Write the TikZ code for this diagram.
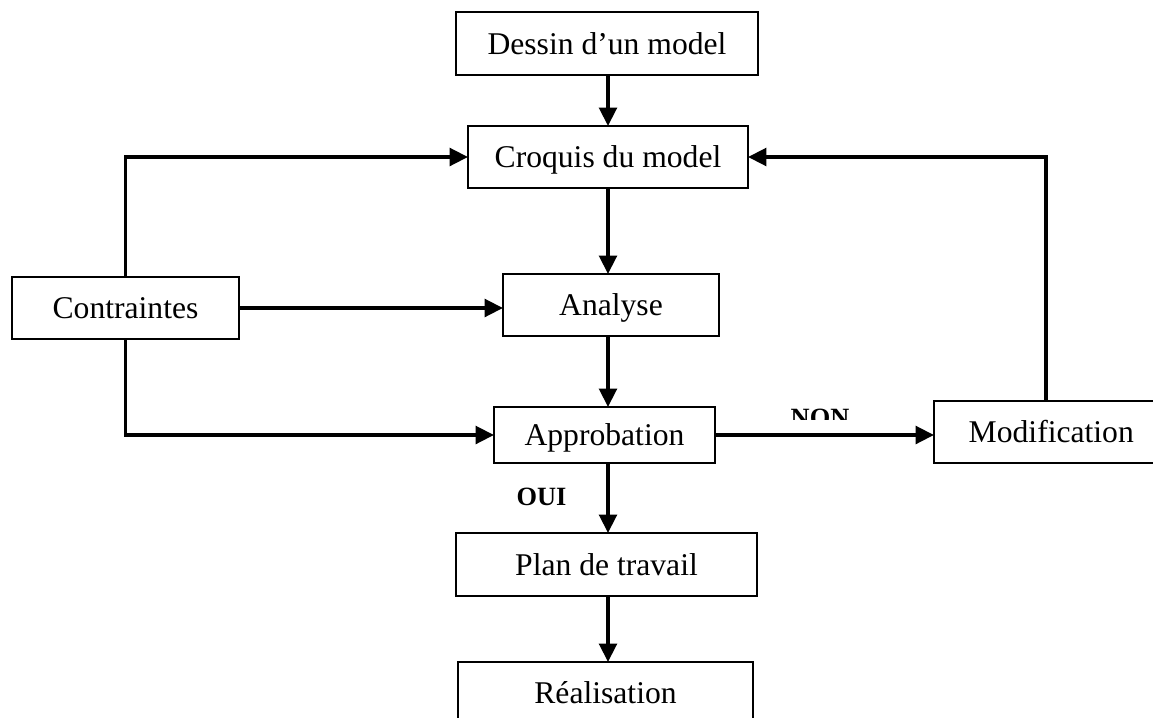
\documentclass[tikz,border=0pt]{standalone}
\usepackage{fontspec}
\setmainfont{Liberation Serif}
\usetikzlibrary{arrows.meta}
\tikzset{
  stepbox/.style={draw=black, line width=1.1pt, fill=white, inner sep=0pt,
    font=\fontsize{18}{20}\selectfont, outer sep=0pt,
    text height=12pt, text depth=0pt},
  flow/.style={line width=2.2pt, -{Triangle[length=10.5pt,width=10pt]}},
  decision/.style={font=\fontsize{15}{17}\selectfont\bfseries, inner sep=0pt}
}
\begin{document}
\begin{tikzpicture}[x=0.02cm, y=-0.02cm]
  \clip (0,0) rectangle (1153,717);
  \fill[white] (0,0) rectangle (1153,717);

  % boxes of the flow
  \node[stepbox, minimum width=6.04cm, minimum height=1.26cm] (dessin) at (607,43.5) {Dessin d’un model};
  \node[stepbox, minimum width=5.6cm, minimum height=1.24cm] (croquis) at (608,157) {Croquis du model};
  \node[stepbox, minimum width=4.54cm, minimum height=1.24cm] (contraintes) at (125.5,308) {Contraintes};
  \node[stepbox, minimum width=4.32cm, minimum height=1.24cm] (analyse) at (611,305) {Analyse};
  \node[stepbox, minimum width=4.42cm, minimum height=1.12cm] (approbation) at (604.5,435) {Approbation};
  \node[stepbox, minimum width=4.48cm, minimum height=1.24cm] (modification) at (1046,432) {\hspace*{6pt}Modification};
  \node[stepbox, minimum width=6.02cm, minimum height=1.26cm] (plan) at (606.5,564.5) {Plan de travail};
  \node[stepbox, minimum width=5.9cm, minimum height=1.24cm] (realisation) at (605.5,693) {Réalisation};

  % main vertical axis
  \coordinate (spine) at (608,0);

  \draw[flow] (dessin.south -| spine) -- (croquis.north -| spine);
  \draw[flow] (croquis.south -| spine) -- (analyse.north -| spine);
  \draw[flow] (analyse.south -| spine) -- (approbation.north -| spine);
  \draw[flow] (approbation.south -| spine) -- (plan.north -| spine);
  \draw[flow] (plan.south -| spine) -- (realisation.north -| spine);

  % constraints feeding three steps
  \draw[flow] (contraintes.north) |- (croquis.west);
  \draw[flow] (contraintes.east) -- (contraintes.east -| analyse.west);
  \draw[flow] (contraintes.south) |- (approbation.west);

  % rejection loop
  \draw[flow] (approbation.east) -- (approbation.east -| modification.west);
  \draw[flow] (modification.north) |- (croquis.east);

  % decision labels
  \begin{scope}
    \clip (770,395) rectangle (870,419);
    \node[decision, anchor=base] (non) at (820,426) {NON};
  \end{scope}
  \node[decision, anchor=base] (oui) at (541.5,505) {OUI};
\end{tikzpicture}
\end{document}
